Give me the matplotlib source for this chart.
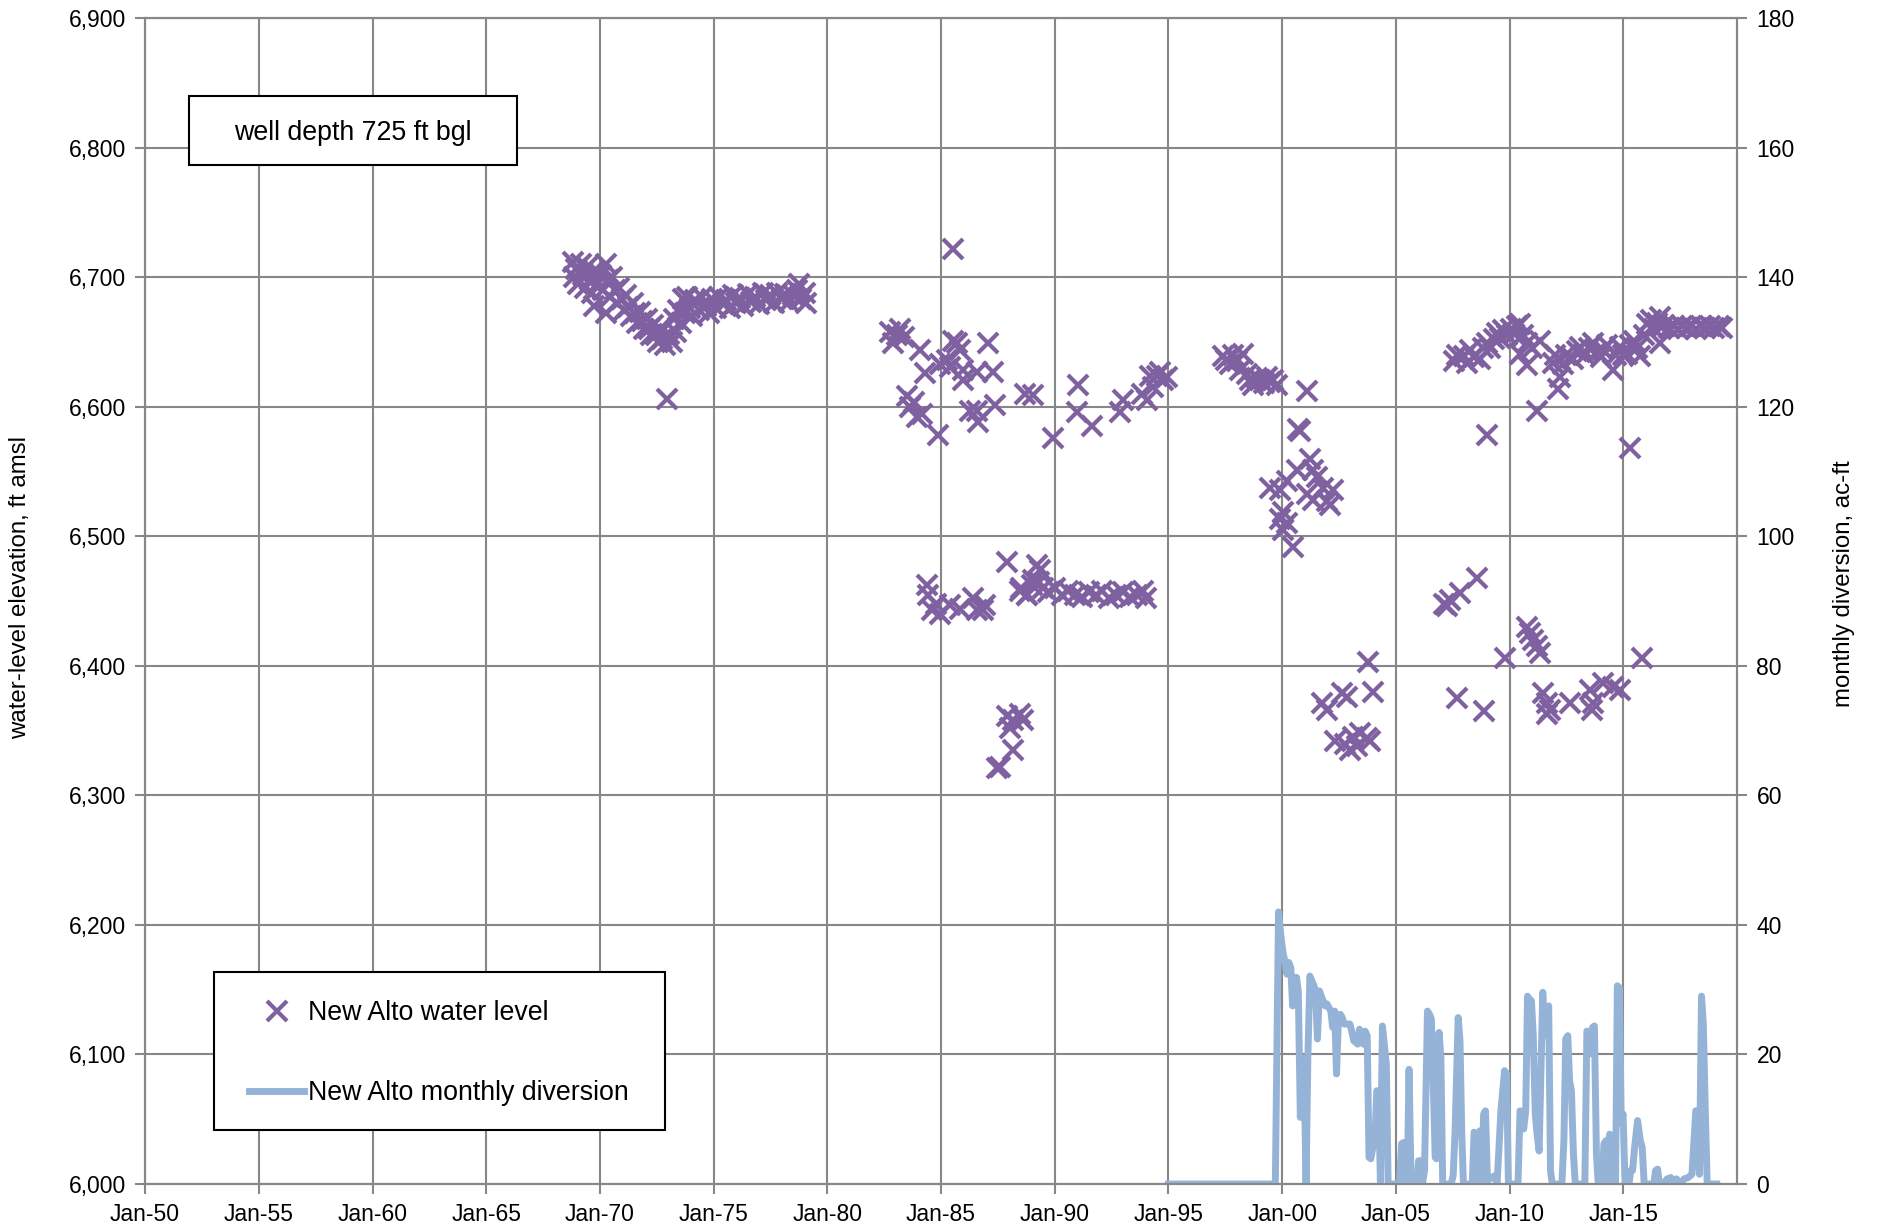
import numpy as np
import matplotlib
matplotlib.use('Agg')
import matplotlib.pyplot as plt
from matplotlib.patches import Rectangle
from matplotlib.ticker import FuncFormatter, MultipleLocator

plt.rcParams['font.family'] = ['Liberation Sans', 'DejaVu Sans']

# water level readings, decimal year / ft amsl
yr_1969 = [1968.80, 1968.85, 1968.95, 1969.05, 1969.15, 1969.25, 1969.35, 1969.45, 1969.55, 1969.65,
           1969.72, 1969.75, 1969.85, 1970.05, 1970.15, 1970.25, 1970.25, 1970.35, 1970.45, 1970.55,
           1970.65, 1970.75, 1970.85, 1970.95, 1971.05, 1971.15, 1971.25, 1971.35, 1971.45, 1971.55,
           1971.65, 1971.75, 1971.85, 1971.95, 1972.05, 1972.15, 1972.25, 1972.35, 1972.45, 1972.55,
           1972.65, 1972.75, 1972.85, 1972.95, 1973.05, 1973.15, 1973.25, 1973.35, 1973.45, 1973.55,
           1973.65, 1973.75, 1973.85, 1973.95, 1974.05, 1974.20, 1974.35, 1974.50, 1974.65, 1974.80,
           1974.95, 1975.10, 1975.25, 1975.40, 1975.55, 1975.70, 1975.85, 1976.00, 1976.15, 1976.30,
           1976.50, 1976.65, 1976.80, 1977.00, 1977.15, 1977.30, 1977.50, 1977.65, 1977.80, 1978.00,
           1978.15, 1978.30, 1978.50, 1978.65, 1978.75, 1978.85, 1979.00, 1979.05]
ft_1969 = [6712, 6700, 6706, 6695, 6710, 6702, 6692, 6708, 6698, 6688,
           6678, 6705, 6695, 6702, 6690, 6710, 6672, 6698, 6685, 6700,
           6690, 6680, 6692, 6683, 6675, 6686, 6677, 6670, 6680, 6672,
           6665, 6673, 6666, 6660, 6668, 6660, 6655, 6663, 6655, 6650,
           6660, 6652, 6648, 6606, 6656, 6650, 6668, 6658, 6675, 6665,
           6683, 6672, 6685, 6676, 6670, 6682, 6675, 6685, 6678, 6672,
           6683, 6676, 6685, 6679, 6682, 6676, 6686, 6680, 6684, 6678,
           6687, 6681, 6685, 6679, 6688, 6682, 6686, 6680, 6688, 6683,
           6687, 6681, 6686, 6690, 6695, 6683, 6688, 6680]

yr_1983 = [1982.76, 1982.90, 1983.05, 1983.20, 1983.35, 1984.08, 1984.30, 1984.96, 1985.25, 1985.40,
           1985.54, 1985.70, 1985.84, 1987.08, 1985.98, 1985.98, 1986.57, 1987.30, 1983.49, 1983.64,
           1983.80, 1983.93, 1984.15, 1984.88, 1986.28, 1986.57, 1986.64, 1987.38, 1988.70, 1989.06,
           1989.94, 1991.04, 1990.97, 1991.63, 1992.87, 1993.02, 1993.83, 1994.05, 1994.19, 1994.34,
           1994.49, 1994.63, 1994.78, 1994.93, 1985.53,
           1984.37, 1984.44, 1984.59, 1984.80, 1984.96, 1985.40, 1985.84, 1986.42, 1986.57, 1986.86,
           1986.94, 1987.89, 1988.48, 1988.77, 1989.06, 1989.20, 1989.36,
           1988.50, 1988.80, 1989.00, 1989.30, 1989.50, 1989.70, 1990.00, 1990.30, 1990.60, 1990.90,
           1991.20, 1991.50, 1991.80, 1992.10, 1992.40, 1992.70, 1993.00, 1993.30, 1993.60, 1993.90,
           1994.00,
           1987.45, 1987.60, 1987.89, 1988.04, 1988.18, 1988.18, 1988.48, 1988.62]
ft_1983 = [6658, 6649, 6655, 6660, 6654, 6644, 6626, 6633, 6636, 6631,
           6651, 6649, 6644, 6649, 6628, 6621, 6627, 6627, 6608, 6600,
           6604, 6592, 6594, 6578, 6597, 6597, 6588, 6601, 6610, 6609,
           6576, 6617, 6596, 6585, 6596, 6605, 6610, 6605, 6624, 6615,
           6624, 6627, 6621, 6623, 6722,
           6462, 6455, 6443, 6448, 6440, 6447, 6444, 6452, 6443, 6443,
           6447, 6480, 6458, 6455, 6466, 6478, 6474,
           6460, 6455, 6462, 6465, 6460, 6457, 6460, 6455, 6458, 6455,
           6453, 6457, 6455, 6458, 6452, 6455, 6457, 6453, 6455, 6458,
           6452,
           6321, 6322, 6361, 6352, 6358, 6335, 6363, 6358]

yr_1997 = [1997.42, 1997.55, 1997.70, 1997.86, 1998.00, 1998.15, 1998.30, 1998.45, 1998.59, 1998.74,
           1998.90, 1999.03, 1999.18, 1999.32, 1999.47, 1999.61, 1999.76,
           2001.08, 2000.71, 2000.79, 2001.23, 2000.64, 2001.37, 2001.52, 2000.20, 1999.47,
           1999.91, 2001.81, 2002.25, 2001.96, 2002.10, 2001.08, 2001.37, 2000.05, 1999.91, 2000.20,
           2000.05, 2000.49,
           2003.79, 2001.74, 2001.96, 2002.62, 2002.84, 2004.01, 2002.33, 2002.77, 2003.13, 2003.43,
           2003.72, 2003.87, 2003.28, 2002.99]
ft_1997 = [6639, 6636, 6633, 6640, 6635, 6628, 6641, 6625, 6621, 6617,
           6622, 6621, 6618, 6623, 6619, 6621, 6617,
           6612, 6583, 6581, 6560, 6551, 6551, 6546, 6543, 6537,
           6536, 6537, 6536, 6527, 6524, 6533, 6528, 6519, 6513, 6510,
           6505, 6492,
           6403, 6371, 6366, 6379, 6376, 6380, 6342, 6340, 6345, 6348,
           6344, 6342, 6338, 6335]

yr_2007 = [2007.54, 2007.70, 2007.98, 2008.13, 2008.27, 2008.42, 2008.71, 2008.85, 2009.00, 2009.15,
           2009.30, 2009.44, 2009.60, 2009.73, 2009.90, 2010.05, 2010.20, 2010.32, 2010.47, 2010.47,
           2010.60, 2010.76, 2010.76, 2011.00, 2011.35, 2009.00, 2011.20, 2012.15, 2012.23, 2011.93,
           2012.00, 2012.37, 2012.50, 2012.81, 2012.95, 2013.10, 2013.30, 2013.50, 2013.69, 2013.85,
           2014.00, 2014.13, 2014.30, 2014.57, 2014.70, 2014.86, 2015.00, 2015.16, 2015.30, 2015.45,
           2015.60, 2015.75, 2015.90, 2016.04, 2016.20, 2016.35, 2016.50, 2016.62, 2016.62, 2016.80,
           2017.00, 2017.21, 2017.40, 2017.60, 2017.80, 2018.00, 2018.20, 2018.40, 2018.60, 2018.80,
           2019.00, 2019.20, 2019.35, 2015.30,
           2007.10, 2007.24, 2007.39, 2007.83, 2008.56, 2009.81, 2010.76, 2010.91, 2011.05, 2011.20,
           2011.35, 2007.68, 2008.86, 2011.49, 2011.64, 2011.64, 2011.79, 2012.67, 2013.55, 2013.69,
           2013.62, 2014.13, 2014.57, 2014.86, 2015.82]
ft_2007 = [6635, 6640, 6639, 6634, 6644, 6638, 6637, 6645, 6649, 6645,
           6652, 6657, 6653, 6659, 6655, 6660, 6656, 6662, 6664, 6641,
           6655, 6649, 6632, 6645, 6651, 6578, 6597, 6614, 6623, 6634,
           6640, 6633, 6640, 6637, 6643, 6646, 6640, 6645, 6649, 6642,
           6638, 6644, 6648, 6628, 6640, 6646, 6640, 6641, 6648, 6651,
           6645, 6639, 6655, 6664, 6667, 6660, 6665, 6669, 6649, 6663,
           6661, 6662, 6660, 6662, 6661, 6662, 6660, 6662, 6661, 6662,
           6661, 6662, 6661, 6568,
           6448, 6446, 6451, 6456, 6468, 6406, 6430, 6425, 6420, 6415,
           6410, 6375, 6365, 6379, 6371, 6363, 6366, 6371, 6381, 6371,
           6366, 6387, 6384, 6381, 6406]

# monthly diversion, decimal year / ac-ft
div_year = [1995.00, 1999.62, 1999.70, 1999.84, 1999.96, 2000.04, 2000.12, 2000.21, 2000.29, 2000.38,
            2000.46, 2000.54, 2000.63, 2000.71, 2000.80, 2000.88, 2000.96, 2001.05, 2001.13, 2001.22,
            2001.30, 2001.38, 2001.47, 2001.55, 2001.64, 2001.72, 2001.80, 2001.89, 2001.97, 2002.06,
            2002.14, 2002.22, 2002.31, 2002.39, 2002.48, 2002.56, 2002.64, 2002.73, 2002.81, 2002.90,
            2002.98, 2003.06, 2003.15, 2003.23, 2003.32, 2003.40, 2003.48, 2003.57, 2003.65, 2003.74,
            2003.82, 2003.90, 2003.99, 2004.07, 2004.16, 2004.24, 2004.32, 2004.41, 2004.49, 2004.58,
            2004.66, 2005.16, 2005.25, 2005.33, 2005.42, 2005.50, 2005.58, 2005.67, 2005.92, 2006.00,
            2006.09, 2006.17, 2006.26, 2006.39, 2006.48, 2006.56, 2006.64, 2006.73, 2006.79, 2006.90,
            2006.98, 2007.06, 2007.43, 2007.52, 2007.60, 2007.74, 2007.82, 2007.90, 2007.97, 2008.36,
            2008.44, 2008.52, 2008.61, 2008.69, 2008.78, 2008.86, 2008.94, 2009.03, 2009.20, 2009.36,
            2009.45, 2009.62, 2009.78, 2009.87, 2009.95, 2010.37, 2010.46, 2010.54, 2010.62, 2010.71,
            2010.79, 2010.88, 2010.96, 2011.04, 2011.13, 2011.21, 2011.30, 2011.46, 2011.55, 2011.63,
            2011.72, 2011.80, 2011.88, 2012.30, 2012.39, 2012.47, 2012.56, 2012.64, 2012.72, 2012.81,
            2012.89, 2013.31, 2013.40, 2013.48, 2013.57, 2013.65, 2013.73, 2013.82, 2013.90, 2014.07,
            2014.15, 2014.24, 2014.32, 2014.40, 2014.49, 2014.57, 2014.66, 2014.74, 2014.83, 2014.91,
            2014.99, 2015.08, 2015.25, 2015.33, 2015.41, 2015.50, 2015.63, 2015.75, 2015.83, 2015.92,
            2016.34, 2016.42, 2016.51, 2016.59, 2016.76, 2016.93, 2017.09, 2017.18, 2017.34, 2017.51,
            2017.68, 2017.85, 2018.02, 2018.19, 2018.27, 2018.35, 2018.44, 2018.52, 2018.61, 2018.69,
            2019.11]
div_acft = [0, 0, 0, 42.0, 37.8, 35.7, 34.4, 32.4, 34.2, 33.4,
            27.5, 31.9, 31.9, 29.8, 10.3, 19.5, 19.0, 0, 19.5, 32.1,
            31.4, 30.8, 29.8, 22.4, 29.8, 29.0, 28.3, 27.5, 27.8, 27.2,
            26.7, 24.2, 26.7, 17.0, 26.0, 26.2, 25.7, 24.7, 24.7, 24.7,
            24.7, 23.6, 22.1, 21.9, 21.6, 23.9, 22.6, 21.6, 23.6, 22.9,
            4.1, 3.9, 5.7, 6.2, 14.4, 13.9, 0.3, 24.4, 21.6, 18.5,
            0, 0, 6.2, 6.4, 0, 0, 17.7, 0, 0, 3.6,
            3.6, 0, 2.1, 26.7, 26.2, 25.5, 15.9, 4.1, 3.9, 23.4,
            19.5, 0, 0, 1.3, 7.7, 25.7, 22.1, 7.7, 0, 0,
            8.0, 7.7, 0.5, 8.2, 0, 10.8, 11.3, 0.5, 1.0, 1.3,
            0, 11.3, 17.5, 17.0, 0, 0, 11.3, 10.8, 8.5, 11.3,
            29.0, 28.5, 28.3, 23.1, 10.8, 7.7, 5.1, 29.6, 22.9, 24.2,
            27.5, 2.1, 0, 0, 6.7, 22.4, 22.9, 15.9, 14.4, 4.6,
            0, 0, 23.6, 23.4, 20.1, 24.2, 24.4, 4.6, 0, 0,
            6.2, 6.7, 0, 7.7, 7.2, 0, 0, 30.6, 30.3, 9.3,
            10.8, 0, 0, 2.1, 2.1, 5.7, 9.8, 6.7, 5.7, 0,
            0, 2.1, 2.3, 0, 0, 0.8, 1.0, 0, 0.8, 0,
            0.8, 1.0, 1.5, 11.3, 11.3, 1.5, 29.0, 24.7, 10.8, 0,
            0]

level_year = np.concatenate([yr_1969, yr_1983, yr_1997, yr_2007])
level_ft = np.concatenate([ft_1969, ft_1983, ft_1997, ft_2007])

purple = '#7F61A1'
blue = '#95B3D7'
grid_gray = '#878787'

fig = plt.figure(figsize=(18.77, 12.28), dpi=100)
ax = fig.add_axes([0.0773, 0.0358, 0.8481, 0.9495])
ax2 = ax.twinx()

ax.plot(level_year, level_ft, linestyle='none', marker='x', ms=14.5, mew=3.0,
        color=purple, label='New Alto water level')
ax2.plot(div_year, div_acft, color=blue, lw=5, solid_joinstyle='round',
         label='New Alto monthly diversion')

ax.set_xlim(1950, 2020)
ax.set_ylim(6000, 6900)
ax2.set_ylim(0, 180)
ax.set_xticks(np.arange(1950, 2020, 5))
ax.xaxis.set_major_formatter(FuncFormatter(lambda v, p: 'Jan-%02d' % (int(round(v)) % 100)))
ax.yaxis.set_major_locator(MultipleLocator(100))
ax.yaxis.set_major_formatter(FuncFormatter(lambda v, p: '{:,.0f}'.format(v)))
ax2.yaxis.set_major_locator(MultipleLocator(20))

ax.grid(True, color=grid_gray, lw=1.5)
ax.set_axisbelow(True)
# the Jan-20 gridline falls on the right spine
for a in (ax, ax2):
    for s in a.spines.values():
        s.set_color(grid_gray)
        s.set_linewidth(1.5)
    a.tick_params(direction='out', length=7, width=1.5, color=grid_gray,
                  labelsize=16.5, pad=7)

ax.set_ylabel('water-level elevation, ft amsl', fontsize=17.3)
ax.yaxis.set_label_coords(-0.0716, 0.512)
ax2.set_ylabel('monthly diversion, ac-ft', fontsize=17.3)
ax2.yaxis.set_label_coords(1.0603, 0.515)

# well depth note
ax.add_patch(Rectangle((0.0276, 0.874), 0.206, 0.0592, transform=ax.transAxes,
                       facecolor='white', edgecolor='black', lw=1.5, zorder=5))
ax.text(0.1307, 0.9015, 'well depth 725 ft bgl', transform=ax.transAxes,
        ha='center', va='center', fontsize=19.3, zorder=6)

# legend box drawn separately so its padding can differ by side
ax2.add_patch(Rectangle((0.0435, 0.0463), 0.2834, 0.1355, transform=ax.transAxes,
                        facecolor='white', edgecolor='black', lw=1.5, zorder=4))
h1, l1 = ax.get_legend_handles_labels()
h2, l2 = ax2.get_legend_handles_labels()
leg = ax2.legend(h1 + h2, l1 + l2, loc='center left', bbox_to_anchor=(0.0653, 0.1122),
                 bbox_transform=ax.transAxes, borderaxespad=0, borderpad=0, fontsize=19.3,
                 handlelength=2.05, handletextpad=0.15, labelspacing=2.0, frameon=False)
leg.set_zorder(6)

fig.savefig('out.png', dpi=100)
